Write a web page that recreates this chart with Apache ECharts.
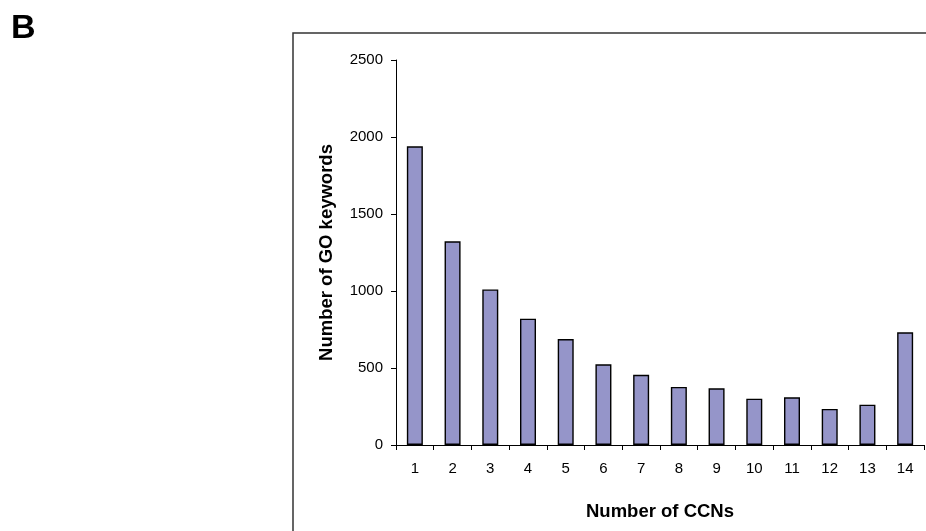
<!DOCTYPE html>
<html>
<head>
<meta charset="utf-8">
<script src="https://cdn.jsdelivr.net/npm/echarts@6/dist/echarts.min.js"></script>
<style>
html,body{margin:0;padding:0;background:#fff;}
#c{width:926px;height:531px;}
</style>
</head>
<body>
<div id="c"></div>
<script>
var categories = ['1','2','3','4','5','6','7','8','9','10','11','12','13','14'];
var keywordCounts = [1940, 1323, 1010, 820, 688, 524, 456, 377, 368, 301, 310, 234, 262, 732];
var yTicks = [0, 500, 1000, 1500, 2000, 2500];

var chart = echarts.init(document.getElementById('c'), null, {renderer: 'canvas'});
var font = 'Liberation Sans, Arial, sans-serif';
chart.setOption({
  animation: false,
  backgroundColor: '#fff',
  graphic: [
    {type: 'rect', shape: {x: 293, y: 33, width: 800, height: 700},
     style: {fill: 'none', stroke: '#333', lineWidth: 1.5}, silent: true},
    {type: 'text', x: 11, y: 29,
     style: {text: 'B', fontFamily: font, fontWeight: 'bold', fontSize: 34, fill: '#000',
             textVerticalAlign: 'middle', verticalAlign: 'middle'}}
  ],
  grid: {left: 396, top: 60, right: 2, bottom: 86, containLabel: false},
  xAxis: {
    type: 'category',
    data: categories,
    name: 'Number of CCNs',
    nameLocation: 'middle',
    nameGap: 57,
    nameTextStyle: {fontFamily: font, fontWeight: 'bold', fontSize: 18.5, color: '#000'},
    axisLine: {lineStyle: {color: '#000', width: 1}},
    axisTick: {show: true, length: 5, alignWithLabel: false, lineStyle: {color: '#000'}},
    axisLabel: {fontFamily: font, fontSize: 15, color: '#000', margin: 16, interval: 0},
    splitLine: {show: false}
  },
  yAxis: {
    type: 'value',
    min: yTicks[0],
    max: yTicks[yTicks.length - 1],
    interval: 500,
    name: 'Number of GO keywords',
    nameLocation: 'middle',
    nameGap: 60,
    nameRotate: 90,
    nameTextStyle: {fontFamily: font, fontWeight: 'bold', fontSize: 18.5, color: '#000'},
    axisLine: {show: true, lineStyle: {color: '#000', width: 1}},
    axisTick: {show: true, length: 5, lineStyle: {color: '#000'}},
    axisLabel: {fontFamily: font, fontSize: 15, color: '#000', margin: 13,
                formatter: function (v) { return String(v); }},
    splitLine: {show: false}
  },
  series: [{
    type: 'bar',
    data: keywordCounts,
    barWidth: 16,
    itemStyle: {color: '#9595c9', borderColor: '#000', borderWidth: 1.4}
  }]
});
</script>
</body>
</html>
